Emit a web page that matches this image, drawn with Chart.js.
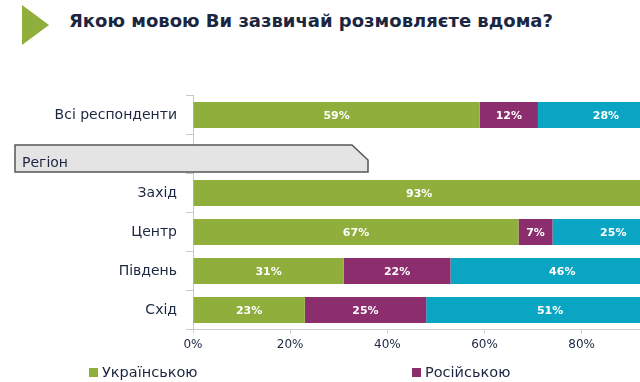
<!DOCTYPE html>
<html>
<head>
<meta charset="utf-8">
<script src="https://cdn.jsdelivr.net/npm/chart.js@4/dist/chart.umd.min.js"></script>
<style>
    body { margin: 0; background: #fff; }
    #wrap { position: relative; width: 640px; height: 382px; overflow: hidden; }
    #arrow {
        position: absolute; left: 22px; top: 5px; width: 0; height: 0;
        border-top: 20px solid transparent;
        border-bottom: 20px solid transparent;
        border-left: 27px solid #8fae3b;
    }
    #title {
        position: absolute; left: 69px; top: 10px; margin: 0;
        font: bold 18px "DejaVu Sans", sans-serif; color: #1b2640;
        white-space: nowrap;
    }
    #languageChart { position: absolute; left: 0; top: 0; }
</style>
</head>
<body>
<div id="wrap">
    <div id="arrow"></div>
    <h1 id="title">Якою мовою Ви зазвичай розмовляєте вдома?</h1>
    <canvas id="languageChart" width="700" height="382"></canvas>
</div>
<script>
// Categories (index 1 is the empty "Регіон" header row)
const categories = ['Всі респонденти', '', 'Захід', 'Центр', 'Південь', 'Схід'];
const seriesNames = ['Українською', 'Російською', 'Обома мовами'];
const ukrainian = [59, null, 93, 67, 31, 23];
const russian = [12, null, 1, 7, 22, 25];
const both = [28, null, 6, 25, 46, 51];
const xTicks = [0, 20, 40, 60, 80, 100];

const textColor = '#1b2640';
const labelFont = '"DejaVu Sans", sans-serif';

// white % labels in the middle of every segment
const segmentLabels = {
    id: 'segmentLabels',
    afterDatasetsDraw(chart) {
        const c = chart.ctx;
        c.save();
        c.font = 'bold 11px ' + labelFont;
        c.fillStyle = '#fff';
        c.textAlign = 'center';
        c.textBaseline = 'middle';
        chart.data.datasets.forEach(function (ds, i) {
            chart.getDatasetMeta(i).data.forEach(function (bar, j) {
                const v = ds.data[j];
                if (v == null || v < 3) return;
                const p = bar.getProps(['x', 'y', 'base'], true);
                c.fillText(v + '%', (p.x + p.base) / 2, p.y + 1);
            });
        });
        c.restore();
    }
};

// grey "Регіон" header tab over the empty row
const regionTab = {
    id: 'regionTab',
    afterDraw(chart) {
        const c = chart.ctx;
        const yc = chart.scales.y.getPixelForValue(1);
        const top = yc - 9, bottom = yc + 18;
        const left = 15, right = 368;
        c.save();
        c.beginPath();
        c.moveTo(left, top);
        c.lineTo(right - 16, top);
        c.lineTo(right, top + 15);
        c.lineTo(right, bottom);
        c.lineTo(left, bottom);
        c.closePath();
        c.fillStyle = '#e4e4e4';
        c.fill();
        c.lineWidth = 1.5;
        c.strokeStyle = '#555';
        c.stroke();
        c.font = '14px ' + labelFont;
        c.fillStyle = textColor;
        c.textBaseline = 'middle';
        c.fillText('Регіон', left + 7, top + 18);
        c.restore();
    }
};

// legend laid out like the original slide
const slideLegend = {
    id: 'slideLegend',
    afterDraw(chart) {
        const c = chart.ctx;
        const xs = [89, 412, 736];
        c.save();
        c.font = '14.5px ' + labelFont;
        c.textBaseline = 'middle';
        chart.data.datasets.forEach(function (ds, i) {
            c.fillStyle = ds.backgroundColor;
            c.fillRect(xs[i], 368, 9, 9);
            c.fillStyle = textColor;
            c.fillText(ds.label, xs[i] + 13, 373);
        });
        c.restore();
    }
};

new Chart(document.getElementById('languageChart'), {
    type: 'bar',
    data: {
        labels: categories,
        datasets: [
            { label: seriesNames[0], data: ukrainian, backgroundColor: '#8fae3b' },
            { label: seriesNames[1], data: russian, backgroundColor: '#8c2d6d' },
            { label: seriesNames[2], data: both, backgroundColor: '#0aa5c2' }
        ]
    },
    options: {
        indexAxis: 'y',
        responsive: false,
        animation: false,
        barPercentage: 0.667,
        categoryPercentage: 1,
        layout: { padding: { top: 95.5, right: 12, bottom: 30.5, left: 0 } },
        plugins: {
            legend: { display: false },
            tooltip: { enabled: false }
        },
        scales: {
            x: {
                stacked: true,
                min: 0,
                max: 100,
                afterBuildTicks: function (scale) {
                    scale.ticks = xTicks.map(function (v) { return { value: v }; });
                },
                afterFit: function (scale) { scale.height = 22; },
                border: { color: '#d0d0d0' },
                grid: { drawOnChartArea: false, tickLength: 4, color: '#d0d0d0' },
                ticks: {
                    padding: 4,
                    color: textColor,
                    font: { family: labelFont, size: 12 },
                    callback: function (v) { return v + '%'; }
                }
            },
            y: {
                stacked: true,
                afterFit: function (scale) { scale.width = 193; },
                border: { color: '#c8c8c8' },
                grid: { drawOnChartArea: false, tickLength: 7, color: '#c8c8c8' },
                ticks: {
                    padding: 9,
                    color: textColor,
                    font: { family: labelFont, size: 14 }
                }
            }
        }
    },
    plugins: [segmentLabels, regionTab, slideLegend]
});
</script>
</body>
</html>
